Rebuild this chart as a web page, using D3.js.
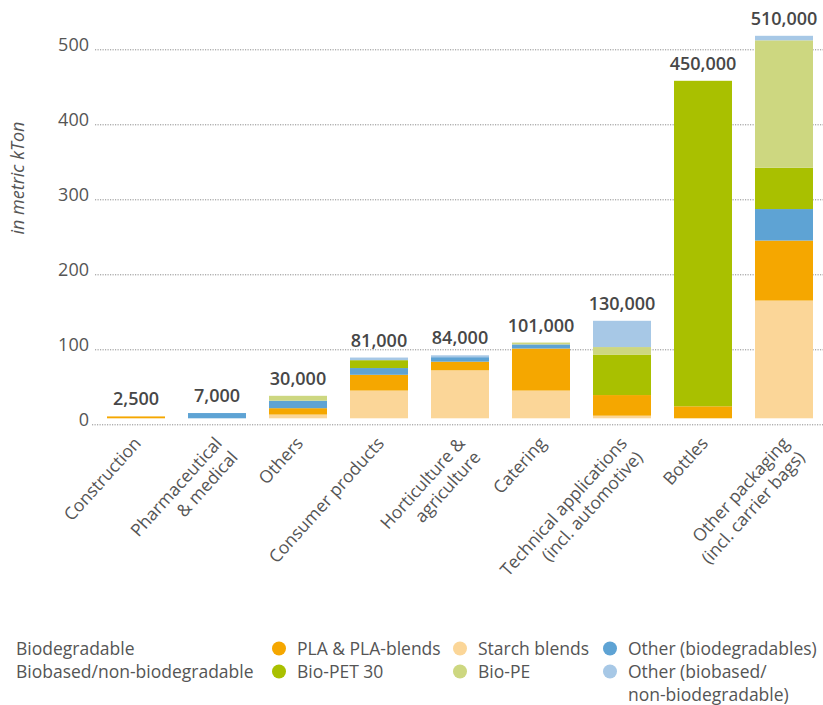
<!DOCTYPE html>
<html>
<head>
<meta charset="utf-8">
<script src="https://cdn.jsdelivr.net/npm/d3@7"></script>
<style>
  html, body { margin: 0; padding: 0; background: #fff; }
  svg { display: block; font-family: "Open Sans", sans-serif; }
</style>
</head>
<body>
<svg id="chart" width="823" height="705"></svg>
<script>
// Market segments (each label line kept separately)
const categories = [
  ["Construction"],
  ["Pharmaceutical", "& medical"],
  ["Others"],
  ["Consumer products"],
  ["Horticulture &", "agriculture"],
  ["Catering"],
  ["Technical applications", "(incl. automotive)"],
  ["Bottles"],
  ["Other packaging", "(incl. carrier bags)"]
];

// Production per material, in thousand metric tonnes
const starchBlends   = [0,   0, 5,    37,   64,   37,   3.5,  0,   157];
const plaBlends      = [2.5, 0, 8.5,  21,   11.5, 56,   27.5, 16,  80];
const otherBiodeg    = [0,   7, 10,   9,    6,    5.5,  0,    0,   42];
const bioPET30       = [0,   0, 0,    10.5, 0,    0,    54,   434, 55];
const bioPE          = [0,   0, 6.5,  0,    0,    2.5,  10,   0,   170];
const otherBiobased  = [0,   0, 0,    3.5,  2.5,  0,    35,   0,   6];

// Totals printed above the bars, in tonnes
const totals = [2500, 7000, 30000, 81000, 84000, 101000, 130000, 450000, 510000];

const yTicks = [0, 100, 200, 300, 400, 500];

const seriesKeys   = ["starch", "pla", "otherBio", "bioPET", "bioPE", "otherBiobased"];
const seriesColors = ["#fbd698", "#f5a700", "#5ea3d4", "#a9c000", "#cdd780", "#a7c8e6"];
const seriesNames  = ["Starch blends", "PLA & PLA-blends", "Other (biodegradables)",
                      "Bio-PET 30", "Bio-PE", "Other (biobased/"];

const rows = categories.map((c, i) => ({
  key: i,
  starch: starchBlends[i],
  pla: plaBlends[i],
  otherBio: otherBiodeg[i],
  bioPET: bioPET30[i],
  bioPE: bioPE[i],
  otherBiobased: otherBiobased[i]
}));

const svg = d3.select("#chart");
const textColor = "#555";

const x = d3.scaleBand()
  .domain(d3.range(categories.length))
  .range([107, 813])
  .paddingInner(0.284)
  .paddingOuter(0);

const y = d3.scaleLinear().domain([0, 500]).range([418.3, 43.3]);

const color = d3.scaleOrdinal().domain(seriesKeys).range(seriesColors);

// Dotted gridlines and tick labels (set a little below the bar baseline)
const grid = svg.append("g").attr("transform", "translate(0,6.5)");
grid.selectAll("line")
  .data(yTicks)
  .join("line")
  .attr("x1", d => d === 0 ? 92 : 95)
  .attr("x2", 823)
  .attr("y1", d => y(d))
  .attr("y2", d => y(d))
  .attr("stroke", "#8c8c8c")
  .attr("stroke-width", 1)
  .attr("stroke-dasharray", "1.2 1.3");

grid.selectAll("text")
  .data(yTicks)
  .join("text")
  .attr("x", 89)
  .attr("y", d => y(d) - 4)
  .attr("text-anchor", "end")
  .attr("dominant-baseline", "middle")
  .attr("font-size", 18)
  .attr("fill", textColor)
  .text(d => d);

// Axis title
svg.append("text")
  .attr("transform", "translate(24,178) rotate(-90)")
  .attr("text-anchor", "middle")
  .attr("font-size", 18)
  .attr("font-style", "italic")
  .attr("fill", textColor)
  .text("in metric kTon");

// Stacked bars
const stacked = d3.stack().keys(seriesKeys)(rows);
svg.append("g")
  .selectAll("g")
  .data(stacked)
  .join("g")
  .attr("fill", d => color(d.key))
  .selectAll("rect")
  .data(d => d.filter(s => s[1] - s[0] > 0))
  .join("rect")
  .attr("x", d => x(d.data.key))
  .attr("width", x.bandwidth())
  .attr("y", d => y(d[1]))
  .attr("height", d => y(d[0]) - y(d[1]));

// Total labels
const fmt = d3.format(",");
svg.append("g")
  .selectAll("text")
  .data(totals)
  .join("text")
  .attr("x", (d, i) => x(i) + x.bandwidth() / 2)
  .attr("y", d => y(d / 1000) - 11)
  .attr("text-anchor", "middle")
  .attr("font-size", 18)
  .attr("font-weight", 600)
  .attr("fill", "#474747")
  .text(d => fmt(d));

// Rotated category labels
const catLabels = svg.append("g")
  .selectAll("text")
  .data(categories)
  .join("text")
  .attr("transform", (d, i) => `translate(${x(i) + x.bandwidth() / 2 + 6},444) rotate(-48)`)
  .attr("text-anchor", "end")
  .attr("font-size", 17.5)
  .attr("fill", textColor);
catLabels.selectAll("tspan")
  .data(d => d)
  .join("tspan")
  .attr("x", 0)
  .attr("y", (d, i) => i * 21)
  .text(d => d);

// Legend
const legend = svg.append("g").attr("font-size", 17.5).attr("fill", textColor);
const groupNames = ["Biodegradable", "Biobased/non-biodegradable"];
const rowY = [655, 678];
const colX = [279, 460, 610];
legend.selectAll("text.group")
  .data(groupNames)
  .join("text")
  .attr("class", "group")
  .attr("x", 16)
  .attr("y", (d, i) => rowY[i])
  .text(d => d);

// Legend order: biodegradables on the first row, biobased on the second
const legendOrder = [1, 0, 2, 3, 4, 5];
const items = legend.selectAll("g.item")
  .data(legendOrder)
  .join("g")
  .attr("class", "item")
  .attr("transform", (k, j) => `translate(${colX[j % 3]},${rowY[Math.floor(j / 3)]})`);
items.append("circle")
  .attr("cx", 0)
  .attr("cy", -6.5)
  .attr("r", 7)
  .attr("fill", k => seriesColors[k]);
items.append("text")
  .attr("x", 18)
  .attr("y", 0)
  .text(k => seriesNames[k]);
items.filter(k => k === 5)
  .select("text")
  .append("tspan")
  .attr("x", 18)
  .attr("dy", 23)
  .text("non-biodegradable)");
</script>
</body>
</html>
